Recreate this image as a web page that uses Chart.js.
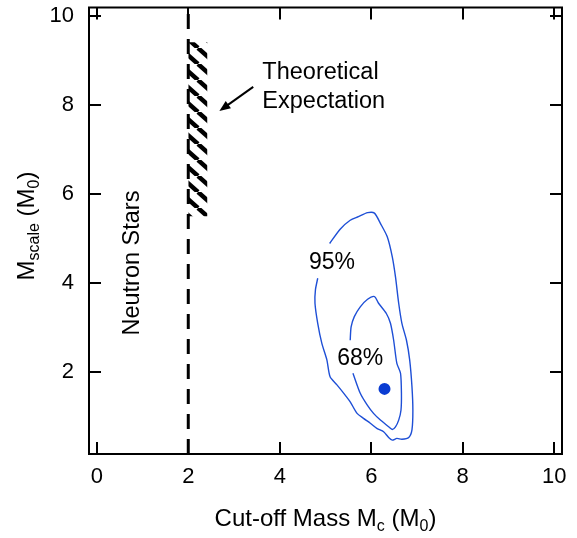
<!DOCTYPE html>
<html><head><meta charset="utf-8">
<script src="https://cdn.jsdelivr.net/npm/chart.js@4.4.1/dist/chart.umd.min.js"></script>
<style>html,body{margin:0;padding:0;background:#fff}#wrap{width:577px;height:538px;position:relative}</style>
</head><body><div id="wrap"><canvas id="c"></canvas></div>
<script>
// ---- data ----
const xTicks = [0, 2, 4, 6, 8, 10];
const yTicks = [2, 4, 6, 8, 10];
const xRange = [-0.17, 10.17];
const yRange = [0.17, 10.18];

const contour95X = [5.09,5.32,5.54,5.72,5.92,6.07,6.20,6.35,6.46,6.53,6.60,6.67,6.77,6.84,6.89,6.91,6.89,6.82,6.67,6.56,6.46,6.38,6.27,6.13,5.98,5.83,5.69,5.54,5.40,5.25,5.10,5.03,4.92,4.83,4.77,4.78,4.83];
const contour95Y = [4.89,5.21,5.41,5.49,5.58,5.57,5.34,5.04,4.59,4.14,3.55,3.10,2.72,2.28,1.68,1.15,0.71,0.54,0.50,0.52,0.48,0.54,0.67,0.74,0.86,0.97,1.08,1.34,1.53,1.72,1.90,2.28,2.65,3.10,3.55,3.85,4.11];

const contour68X = [5.54,5.56,5.63,5.76,5.92,6.07,6.16,6.33,6.42,6.49,6.56,6.64,6.66,6.65,6.60,6.53,6.46,6.38,6.20,6.05,5.91,5.76,5.60];
const contour68Y = [2.72,3.02,3.25,3.47,3.64,3.70,3.55,3.32,3.10,2.72,2.20,1.98,1.53,1.15,0.93,0.78,0.72,0.78,0.93,1.08,1.27,1.53,1.98];

const bestFitX = [6.29];
const bestFitY = [1.63];

const neutronStarX = [2, 2];
const neutronStarY = [0.17, 10.18];

const theoryX = [2.0, 2.42];
const theoryTopY = [9.4, 9.4];
const theoryBottomY = [5.5, 5.5];

const contourLabels = ['95%', '68%'];
const contourLabelX = [5.14, 5.76];
const contourLabelY = [4.46, 2.31];

const pts = (xs, ys) => xs.map((x, i) => ({x: x, y: ys[i]}));

// ---- styles ----
const FONT = '"Liberation Sans", Arial, sans-serif';
const BLUE = '#1e4fd6';

function hatchPattern() {
  const w = 18, h = 16;
  const c = document.createElement('canvas');
  c.width = w; c.height = h;
  const g = c.getContext('2d');
  g.strokeStyle = '#000';
  g.lineWidth = 4.5;
  g.lineCap = 'butt';
  for (const k of [-w, 0, w]) {
    g.beginPath(); g.moveTo(k, 0); g.lineTo(k + w, h); g.stroke();
  }
  return g.createPattern(c, 'repeat');
}

function drawSubText(ctx, parts, x, y, size, align) {
  const subSize = Math.round(size * 0.68);
  const widths = parts.map(p => {
    ctx.font = (p[1] ? subSize : size) + 'px ' + FONT;
    return ctx.measureText(p[0]).width;
  });
  const total = widths.reduce((a, b) => a + b, 0);
  let cx = align === 'center' ? x - total / 2 : x;
  ctx.textAlign = 'left';
  ctx.textBaseline = 'alphabetic';
  parts.forEach((p, i) => {
    ctx.font = (p[1] ? subSize : size) + 'px ' + FONT;
    ctx.fillText(p[0], cx, p[1] ? y + size * 0.22 : y);
    cx += widths[i];
  });
}

const decor = {
  id: 'decor',
  afterDatasetsDraw(chart) {
    const {ctx, chartArea: a, scales: {x, y}} = chart;
    ctx.save();
    ctx.strokeStyle = '#000';
    ctx.fillStyle = '#000';
    // frame
    ctx.lineWidth = 2;
    ctx.strokeRect(a.left, a.top, a.right - a.left, a.bottom - a.top);
    // inward ticks on all four sides
    const TL = 12;
    ctx.beginPath();
    xTicks.forEach(v => {
      const px = Math.round(x.getPixelForValue(v));
      ctx.moveTo(px, a.bottom); ctx.lineTo(px, a.bottom - TL);
      ctx.moveTo(px, a.top); ctx.lineTo(px, a.top + TL);
    });
    yTicks.forEach(v => {
      const py = Math.round(y.getPixelForValue(v));
      ctx.moveTo(a.left, py); ctx.lineTo(a.left + TL, py);
      ctx.moveTo(a.right, py); ctx.lineTo(a.right - TL, py);
    });
    ctx.stroke();

    // contour labels
    ctx.font = '23px ' + FONT;
    ctx.textAlign = 'center';
    ctx.textBaseline = 'middle';
    contourLabels.forEach((t, i) => {
      ctx.fillText(t, x.getPixelForValue(contourLabelX[i]), y.getPixelForValue(contourLabelY[i]));
    });

    // Neutron Stars (rotated)
    ctx.save();
    ctx.translate(x.getPixelForValue(0.79), y.getPixelForValue(4.45));
    ctx.rotate(-Math.PI / 2);
    ctx.font = '23.5px ' + FONT;
    ctx.textAlign = 'center';
    ctx.textBaseline = 'middle';
    ctx.fillText('Neutron Stars', 0, 0);
    ctx.restore();

    // Theoretical Expectation
    ctx.font = '23.5px ' + FONT;
    ctx.textAlign = 'left';
    ctx.textBaseline = 'middle';
    ctx.fillText('Theoretical', x.getPixelForValue(3.62), y.getPixelForValue(8.73));
    ctx.fillText('Expectation', x.getPixelForValue(3.62), y.getPixelForValue(8.08));

    // arrow
    const x1 = x.getPixelForValue(3.42), y1 = y.getPixelForValue(8.40);
    const x2 = x.getPixelForValue(2.68), y2 = y.getPixelForValue(7.86);
    const ang = Math.atan2(y2 - y1, x2 - x1);
    const hl = 11, hw = 4.5;
    ctx.lineWidth = 2;
    ctx.beginPath();
    ctx.moveTo(x1, y1);
    ctx.lineTo(x2 - Math.cos(ang) * hl * 0.8, y2 - Math.sin(ang) * hl * 0.8);
    ctx.stroke();
    ctx.beginPath();
    ctx.moveTo(x2, y2);
    ctx.lineTo(x2 - Math.cos(ang) * hl - Math.sin(ang) * hw, y2 - Math.sin(ang) * hl + Math.cos(ang) * hw);
    ctx.lineTo(x2 - Math.cos(ang) * hl + Math.sin(ang) * hw, y2 - Math.sin(ang) * hl - Math.cos(ang) * hw);
    ctx.closePath();
    ctx.fill();

    // axis titles
    drawSubText(ctx, [['Cut-off Mass M', false], ['c', true], [' (M', false], ['0', true], [')', false]],
      (a.left + a.right) / 2, 526, 24, 'center');
    ctx.save();
    ctx.translate(34, 226);
    ctx.rotate(-Math.PI / 2);
    drawSubText(ctx, [['M', false], ['scale', true], [' (M', false], ['0', true], [')', false]], 0, 0, 24, 'center');
    ctx.restore();
    ctx.restore();
  }
};

new Chart(document.getElementById('c'), {
  type: 'line',
  data: {
    datasets: [
      { label: 'theoryBottom', data: pts(theoryX, theoryBottomY), borderWidth: 0, pointRadius: 0, fill: false, borderColor: 'rgba(0,0,0,0)' },
      { label: 'theoryTop', data: pts(theoryX, theoryTopY), borderWidth: 0, pointRadius: 0, fill: '-1', borderColor: 'rgba(0,0,0,0)', backgroundColor: hatchPattern() },
      { label: 'neutron', data: pts(neutronStarX, neutronStarY), borderColor: '#000', borderWidth: 3, borderDash: [15, 10], pointRadius: 0, fill: false },
      { label: '95%', data: pts(contour95X, contour95Y), borderColor: BLUE, borderWidth: 1.4, pointRadius: 0, fill: false, tension: 0.25 },
      { label: '68%', data: pts(contour68X, contour68Y), borderColor: BLUE, borderWidth: 1.4, pointRadius: 0, fill: false, tension: 0.25 },
      { label: 'best', data: pts(bestFitX, bestFitY), showLine: false, pointRadius: 6, pointBackgroundColor: '#0a3cd2', pointBorderWidth: 0, borderColor: '#0a3cd2' }
    ]
  },
  options: {
    responsive: true,
    maintainAspectRatio: false,
    animation: false,
    devicePixelRatio: 1,
    layout: { padding: { left: 0, right: 15, top: 7.5, bottom: 0 } },
    plugins: { legend: { display: false }, tooltip: { enabled: false } },
    scales: {
      x: {
        type: 'linear', min: xRange[0], max: xRange[1],
        grid: { display: false, drawTicks: false },
        border: { display: false },
        afterBuildTicks: s => { s.ticks = xTicks.map(v => ({value: v})); },
        afterFit: s => { s.height = 84; s.paddingLeft = 0; s.paddingRight = 0; },
        ticks: { autoSkip: false, maxRotation: 0, padding: 10, color: '#000', font: { family: FONT, size: 22 } }
      },
      y: {
        type: 'linear', min: yRange[0], max: yRange[1],
        grid: { display: false, drawTicks: false },
        border: { display: false },
        afterBuildTicks: s => { s.ticks = yTicks.map(v => ({value: v})); },
        afterFit: s => { s.width = 89; s.paddingTop = 0; s.paddingBottom = 0; },
        ticks: { autoSkip: false, padding: 15, color: '#000', font: { family: FONT, size: 22 } }
      }
    }
  },
  plugins: [decor]
});
</script>
</body></html>
